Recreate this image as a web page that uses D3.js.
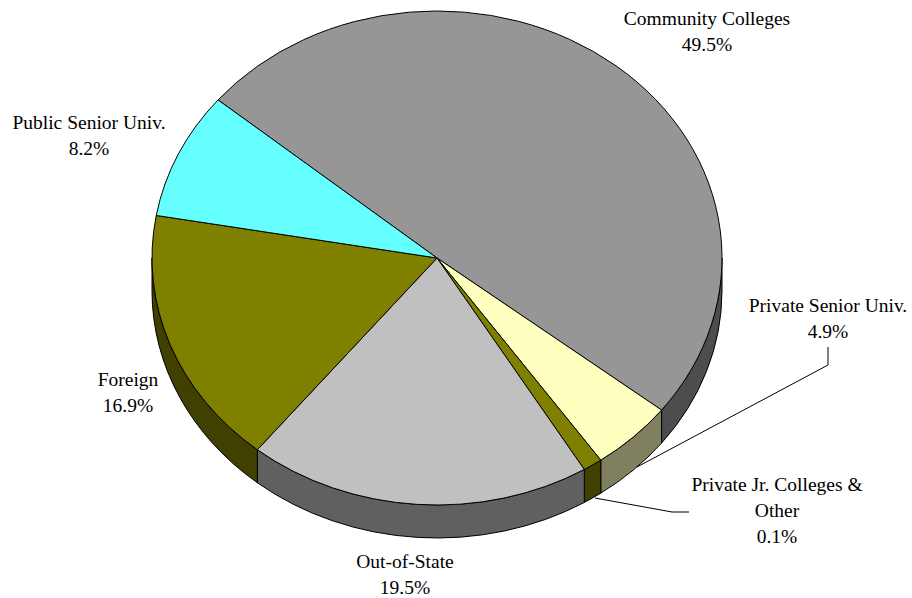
<!DOCTYPE html>
<html>
<head>
<meta charset="utf-8">
<style>
  html, body { margin: 0; padding: 0; background: #fff; }
  svg { display: block; }
  text { font-family: "Liberation Serif", serif; font-size: 19.5px; fill: #000; text-anchor: middle; }
</style>
</head>
<body>
<script src="https://d3js.org/d3.v7.min.js"></script>
<script>

// clockwise from the Community Colleges slice
var categories = ["Community Colleges", "Private Senior Univ.", "Private Jr. Colleges & Other", "Out-of-State", "Foreign", "Public Senior Univ."];
// share of the circle as drawn
var sliceShares = [49.5, 4.7, 1.1, 19.5, 16.9, 8.3];
// percentages as printed on the labels
var printedShares = ["49.5%", "4.9%", "0.1%", "19.5%", "16.9%", "8.2%"];
var topColors = ["#969696", "#ffffc0", "#808000", "#c0c0c0", "#808000", "#66ffff"];
var wallColors = ["#4d4d4d", "#808060", "#404000", "#606060", "#404000", "#4d8080"];

var width = 912, height = 598;
var cx = 437, cy = 258, rx = 285, ry = 247, depth = 33;
var startDeg = -50.2;

// label lines: centre x, first baseline, text per line
var labelLayout = [
  {x: 707, y: 25, lines: ["Community Colleges"]},
  {x: 828, y: 312, lines: ["Private Senior Univ."]},
  {x: 777, y: 491, lines: ["Private Jr. Colleges &", "Other"]},
  {x: 405, y: 568, lines: ["Out-of-State"]},
  {x: 128, y: 386, lines: ["Foreign"]},
  {x: 89, y: 129, lines: ["Public Senior Univ."]}
];
var leaders = [
  [[828, 347], [828, 365], [637, 467]],
  [[595, 498], [672, 512], [689, 512]]
];

var svg = d3.select("body").append("svg")
    .attr("width", width)
    .attr("height", height);

var pie = d3.pie()
    .sort(null)
    .startAngle(startDeg * Math.PI / 180)
    .endAngle((startDeg + 360) * Math.PI / 180);

var slices = pie(sliceShares);

function rim(a, dy) {
  return [cx + rx * Math.sin(a), cy - ry * Math.cos(a) + (dy || 0)];
}

// the side wall only shows on the front half of the disc
function wallPath(d) {
  var a0 = Math.max(d.startAngle, Math.PI / 2),
      a1 = Math.min(d.endAngle, 3 * Math.PI / 2);
  if (a1 <= a0) return null;
  var p0 = rim(a0), p1 = rim(a1), q1 = rim(a1, depth), q0 = rim(a0, depth);
  return "M" + p0 + "A" + rx + "," + ry + " 0 0 1 " + p1 +
         "L" + q1 + "A" + rx + "," + ry + " 0 0 0 " + q0 + "Z";
}

svg.append("g").selectAll("path")
    .data(slices.filter(function(d) { return wallPath(d); }))
  .enter().append("path")
    .attr("d", wallPath)
    .attr("fill", function(d) { return wallColors[d.index]; })
    .attr("stroke", "#000")
    .attr("stroke-width", 1)
    .attr("stroke-linejoin", "round");

var arc = d3.arc().innerRadius(0).outerRadius(rx);

svg.append("g")
    .attr("transform", "translate(" + cx + "," + cy + ") scale(1," + (ry / rx) + ")")
  .selectAll("path")
    .data(slices)
  .enter().append("path")
    .attr("d", arc)
    .attr("fill", function(d) { return topColors[d.index]; })
    .attr("stroke", "#000")
    .attr("stroke-width", 1)
    .attr("stroke-linejoin", "round")
    .attr("vector-effect", "non-scaling-stroke");

svg.append("g").selectAll("path")
    .data(leaders)
  .enter().append("path")
    .attr("d", d3.line())
    .attr("fill", "none")
    .attr("stroke", "#000")
    .attr("stroke-width", 1);

var labels = svg.append("g").selectAll("text")
    .data(labelLayout)
  .enter().append("text")
    .attr("x", function(d) { return d.x; })
    .attr("y", function(d) { return d.y; });

labels.each(function(d, i) {
  var t = d3.select(this);
  d.lines.concat(printedShares[i]).forEach(function(line, j) {
    t.append("tspan")
        .attr("x", d.x)
        .attr("dy", j ? 25.8 : 0)
        .text(line);
  });
});

</script>
</body>
</html>
